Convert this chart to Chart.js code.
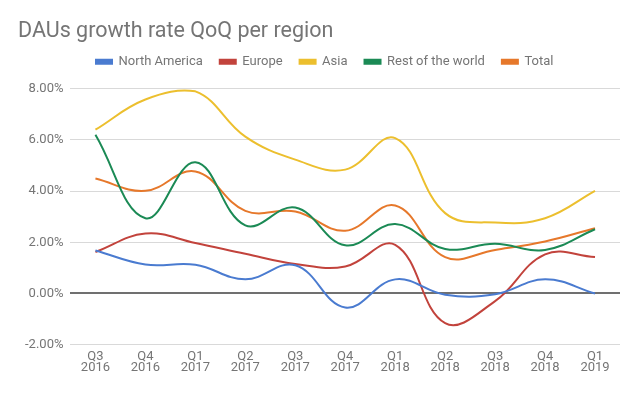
<!DOCTYPE html>
<html>
<head>
<meta charset="utf-8">
<script src="https://cdn.jsdelivr.net/npm/chart.js@4/dist/chart.umd.min.js"></script>
<style>
  html, body { margin: 0; padding: 0; background: #fff; overflow: hidden; }
  #growthChart { display: block; }
</style>
</head>
<body>
<canvas id="growthChart" width="640" height="396"></canvas>
<script>
// quarters on the x axis
const quarters = [
  ['Q3', '2016'], ['Q4', '2016'], ['Q1', '2017'], ['Q2', '2017'], ['Q3', '2017'],
  ['Q4', '2017'], ['Q1', '2018'], ['Q2', '2018'], ['Q3', '2018'], ['Q4', '2018'], ['Q1', '2019']
];

// growth rate in percent
const northAmerica = [1.68, 1.13, 1.12, 0.55, 1.10, -0.55, 0.55, -0.05, -0.03, 0.55, 0.00];
const europe       = [1.62, 2.34, 1.97, 1.55, 1.15, 1.05, 1.90, -1.16, -0.30, 1.53, 1.42];
const asia         = [6.40, 7.58, 7.90, 6.13, 5.23, 4.84, 6.07, 3.14, 2.77, 2.94, 4.01];
const restOfWorld  = [6.20, 2.94, 5.13, 2.66, 3.36, 1.88, 2.71, 1.74, 1.94, 1.70, 2.51];
const total        = [4.49, 4.01, 4.77, 3.23, 3.20, 2.45, 3.44, 1.42, 1.70, 2.03, 2.55];

const yTicks = [-2, 0, 2, 4, 6, 8];

Chart.defaults.font.family = 'Roboto, "Noto Sans", sans-serif';
Chart.defaults.color = '#757575';

function series(label, data, color) {
  return {
    label: label,
    data: data,
    borderColor: color,
    backgroundColor: color,
    borderWidth: 2,
    pointRadius: 0,
    tension: 0.4,
    fill: false
  };
}

// move the legend row to where it sits in the picture
const legendShift = {
  id: 'legendShift',
  afterLayout(chart) {
    const lg = chart.legend;
    lg.left += 61; lg.right += 61;
    lg.top -= 10.5; lg.bottom -= 10.5;
  }
};

const ctx = document.getElementById('growthChart').getContext('2d');
const myChart = new Chart(ctx, {
  type: 'line',
  data: {
    labels: quarters,
    datasets: [
      series('North America', northAmerica, '#4a7bd0'),
      series('Europe', europe, '#c2433c'),
      series('Asia', asia, '#ecbf2e'),
      series('Rest of the world', restOfWorld, '#1b8a55'),
      series('Total', total, '#e6782b')
    ]
  },
  plugins: [legendShift],
  options: {
    responsive: false,
    animation: false,
    layout: { padding: { left: 18, right: 20, top: 0, bottom: 16 } },
    plugins: {
      title: {
        display: true,
        text: 'DAUs growth rate QoQ per region',
        align: 'start',
        color: '#757575',
        font: { size: 21.5, weight: 'normal' },
        padding: { top: 19, bottom: 4 }
      },
      legend: {
        align: 'start',
        labels: {
          boxWidth: 16,
          boxHeight: 4,
          font: { size: 13 },
          color: '#757575',
          padding: 17
        }
      },
      tooltip: { enabled: false }
    },
    scales: {
      x: {
        offset: true,
        grid: { display: false, drawTicks: false },
        border: { display: false },
        ticks: { font: { size: 13, lineHeight: 0.9 }, color: '#757575', maxRotation: 0, padding: 6 }
      },
      y: {
        min: -2,
        max: 8,
        afterBuildTicks: axis => { axis.ticks = yTicks.map(v => ({ value: v })); },
        border: { display: false },
        grid: {
          drawTicks: false,
          color: c => c.tick && c.tick.value === 0 ? '#707070' : '#d9d9d9',
          lineWidth: c => c.tick && c.tick.value === 0 ? 2 : 1
        },
        ticks: {
          font: { size: 13 },
          color: '#757575',
          padding: 7,
          callback: v => v.toFixed(2) + '%'
        }
      }
    }
  }
});
</script>
</body>
</html>
